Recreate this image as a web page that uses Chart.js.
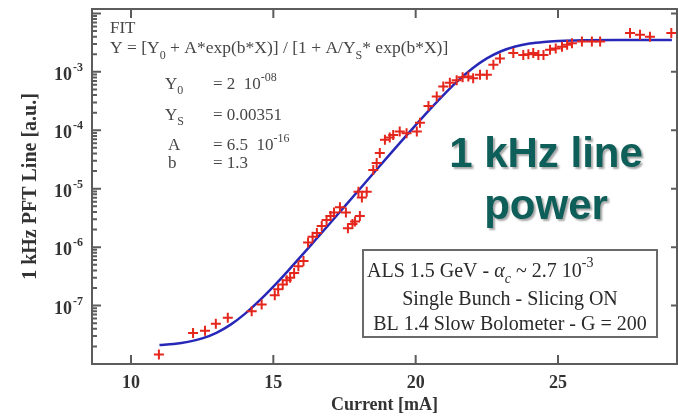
<!DOCTYPE html>
<html><head><meta charset="utf-8">
<script src="https://cdn.jsdelivr.net/npm/chart.js@4.4.1/dist/chart.umd.min.js"></script>
<style>html,body{margin:0;padding:0;background:#fff;}#wrap{width:678px;height:416px;}</style>
</head><body><div id="wrap"><canvas id="c" width="678" height="416"></canvas></div>
<script>
// ---- data ----
const measX = [10.98,12.18,12.60,12.98,13.40,14.24,14.59,15.05,15.17,15.33,15.47,15.59,15.73,15.88,16.06,16.22,16.38,16.53,16.70,16.87,17.01,17.13,17.34,17.55,17.62,17.78,17.87,18.04,17.99,18.11,18.28,18.51,18.63,18.74,18.92,19.09,19.21,19.44,19.68,20.04,20.15,20.45,20.74,20.97,21.20,21.44,21.65,21.85,22.02,22.26,22.50,22.73,22.96,23.43,23.78,23.96,24.13,24.31,24.49,24.72,24.92,25.14,25.32,25.49,25.84,26.19,26.48,27.53,27.88,28.23,28.98];
const measY = [1.45e-8,3.4e-8,3.7e-8,4.9e-8,6.2e-8,8.0e-8,1.04e-7,1.5e-7,1.9e-7,2.3e-7,2.7e-7,3.0e-7,3.6e-7,4.7e-7,5.8e-7,1.2e-6,1.5e-6,1.75e-6,2.3e-6,2.9e-6,3.4e-6,3.9e-6,4.8e-6,3.9e-6,2.1e-6,2.5e-6,2.75e-6,3.4e-6,8.9e-6,7.1e-6,8.9e-6,2.1e-5,2.75e-5,4.1e-5,6.9e-5,7.5e-5,8.3e-5,9.5e-5,8.9e-5,9.5e-5,1.35e-4,2.6e-4,3.8e-4,5.6e-4,6.5e-4,7.2e-4,8.1e-4,8.3e-4,7.8e-4,8.9e-4,8.9e-4,1.32e-3,1.7e-3,2.1e-3,1.95e-3,2.0e-3,2.1e-3,1.95e-3,1.95e-3,2.4e-3,2.5e-3,2.7e-3,2.9e-3,3.1e-3,3.3e-3,3.3e-3,3.3e-3,4.6e-3,4.3e-3,4.0e-3,4.6e-3];
const fitX = [11,11.5,12,12.5,13,13.5,14,14.5,15,15.5,16,16.5,17,17.5,18,18.5,19,19.5,20,20.5,21,21.5,22,22.5,23,23.5,24,24.5,25,25.5,26,27,28,29];
const fitY = [2.11e-8,2.20e-8,2.39e-8,2.74e-8,3.42e-8,4.72e-8,7.2e-8,1.20e-7,2.11e-7,3.86e-7,7.21e-7,1.365e-6,2.59e-6,4.94e-6,9.43e-6,1.80e-5,3.44e-5,6.51e-5,1.228e-4,2.28e-4,4.12e-4,7.13e-4,1.151e-3,1.697e-3,2.25e-3,2.72e-3,3.05e-3,3.25e-3,3.37e-3,3.44e-3,3.47e-3,3.50e-3,3.51e-3,3.51e-3];
const xTickValues = [10,15,20,25];
const yTickExponents = [-3,-4,-5,-6,-7];
const xTitle = 'Current [mA]';
const yTitle = '1 kHz PFT Line [a.u.]';

const SERIF = '"Liberation Serif", "Times New Roman", serif';

function rich(ctx, x, y, parts, size, weight, color, align) {
  const fontFor = p => {
    const s = (p.sub || p.sup) ? Math.round(size * 0.68) : size;
    return (p.italic ? 'italic ' : '') + (weight || 'normal') + ' ' + s + 'px ' + SERIF;
  };
  let w = 0;
  for (const p of parts) { ctx.font = fontFor(p); w += ctx.measureText(p.t).width; }
  let cx = align === 'center' ? x - w / 2 : x;
  ctx.fillStyle = color; ctx.textAlign = 'left'; ctx.textBaseline = 'alphabetic';
  for (const p of parts) {
    ctx.font = fontFor(p);
    const dy = p.sub ? size * 0.32 : p.sup ? -size * 0.5 : 0;
    ctx.fillText(p.t, cx, y + dy);
    cx += ctx.measureText(p.t).width;
  }
}

const decor = {
  id: 'decor',
  afterDraw(chart) {
    const {ctx, chartArea: a, scales: {x, y}} = chart;
    ctx.save();
    ctx.strokeStyle = '#5c5c5c'; ctx.lineWidth = 2;
    ctx.strokeRect(a.left, a.top, a.right - a.left, a.bottom - a.top);
    ctx.beginPath();
    xTickValues.forEach(v => {
      const px = x.getPixelForValue(v);
      ctx.moveTo(px, a.bottom); ctx.lineTo(px, a.bottom - 9);
      ctx.moveTo(px, a.top); ctx.lineTo(px, a.top + 9);
    });
    for (let e = -8; e <= -2; e++) {
      for (let k = 1; k <= 9; k++) {
        const v = k * Math.pow(10, e);
        if (v <= y.min || v >= y.max) continue;
        const py = y.getPixelForValue(v);
        ctx.moveTo(a.left, py); ctx.lineTo(a.left + (k === 1 ? 9 : 5), py);
        if (k === 1) { ctx.moveTo(a.right, py); ctx.lineTo(a.right - 6, py); }
      }
    }
    ctx.stroke();
    yTickExponents.forEach(e => {
      const py = y.getPixelForValue(Math.pow(10, e));
      ctx.fillStyle = '#333';
      ctx.font = 'bold 18px ' + SERIF; ctx.textAlign = 'right'; ctx.textBaseline = 'alphabetic';
      ctx.fillText('10', a.left - 20, py + 8);
      ctx.font = 'bold 12px ' + SERIF; ctx.textAlign = 'left';
      ctx.fillText(String(e), a.left - 19, py - 1);
    });
    const g = '#464646';
    rich(ctx, 110, 33, [{t: 'FIT'}], 17, 'normal', g);
    rich(ctx, 110, 53, [{t: 'Y = [Y'}, {t: '0', sub: 1}, {t: ' + A*exp(b*X)] / [1 + A/Y'}, {t: 'S', sub: 1}, {t: '* exp(b*X)]'}], 17.5, 'normal', g);
    rich(ctx, 165, 89, [{t: 'Y'}, {t: '0', sub: 1}], 17, 'normal', g);
    rich(ctx, 213, 89, [{t: '= 2  10'}, {t: '-08', sup: 1}], 17, 'normal', g);
    rich(ctx, 165, 120, [{t: 'Y'}, {t: 'S', sub: 1}], 17, 'normal', g);
    rich(ctx, 213, 120, [{t: '= 0.00351'}], 17, 'normal', g);
    rich(ctx, 168, 150, [{t: 'A'}], 17, 'normal', g);
    rich(ctx, 213, 150, [{t: '= 6.5  10'}, {t: '-16', sup: 1}], 17, 'normal', g);
    rich(ctx, 168, 168, [{t: 'b'}], 17, 'normal', g);
    rich(ctx, 213, 168, [{t: '= 1.3'}], 17, 'normal', g);
    ctx.fillStyle = '#fff'; ctx.fillRect(363, 250, 294, 87);
    ctx.strokeStyle = '#6a6a6a'; ctx.lineWidth = 2; ctx.strokeRect(363, 250, 294, 87);
    const t = '#2a2a2a';
    rich(ctx, 367, 277, [{t: 'ALS 1.5 GeV - '}, {t: 'α', italic: 1}, {t: 'c', sub: 1, italic: 1}, {t: ' ~ 2.7 10'}, {t: '-3', sup: 1}], 20, 'normal', t);
    rich(ctx, 510, 305, [{t: 'Single Bunch - Slicing ON'}], 20, 'normal', t, 'center');
    rich(ctx, 510, 330, [{t: 'BL 1.4 Slow Bolometer - G = 200'}], 20, 'normal', t, 'center');
    ctx.font = 'bold 42px "Liberation Sans", Arial, sans-serif';
    ctx.textAlign = 'center'; ctx.textBaseline = 'alphabetic';
    ctx.shadowColor = 'rgba(0,0,0,0.35)'; ctx.shadowOffsetX = 2; ctx.shadowOffsetY = 2; ctx.shadowBlur = 2;
    ctx.fillStyle = '#0e5e59';
    ctx.fillText('1 kHz line', 546, 167);
    ctx.fillText('power', 546, 219);
    ctx.restore();
  }
};

new Chart(document.getElementById('c'), {
  type: 'scatter',
  data: {
    datasets: [
      {
        label: 'data',
        data: measX.map((v, i) => ({x: v, y: measY[i]})),
        pointStyle: 'cross', pointRadius: 5, pointBorderWidth: 2,
        borderColor: '#e5261c', backgroundColor: '#e5261c', showLine: false
      },
      {
        label: 'fit',
        data: fitX.map((v, i) => ({x: v, y: fitY[i]})),
        showLine: true, pointRadius: 0, borderColor: '#2828b8', borderWidth: 2.5,
        cubicInterpolationMode: 'monotone', fill: false
      }
    ]
  },
  options: {
    responsive: false, animation: false, devicePixelRatio: 1,
    layout: {autoPadding: false, padding: {top: 9, right: 1, left: 0, bottom: 0}},
    plugins: {legend: {display: false}, tooltip: {enabled: false}},
    scales: {
      x: {
        type: 'linear', position: 'bottom', min: 8.63, max: 29.18,
        afterFit: s => { s.height = 52; s.paddingLeft = 0; s.paddingRight = 0; },
        afterBuildTicks: s => { s.ticks = xTickValues.map(v => ({value: v})); },
        grid: {display: false, drawTicks: false}, border: {display: false},
        ticks: {font: {family: SERIF, size: 18, weight: 'bold'}, color: '#333', padding: 9, maxRotation: 0, autoSkip: false,
                callback: v => String(v)},
        title: {display: true, text: xTitle, color: '#333', font: {family: SERIF, size: 18, weight: 'bold'}, padding: {top: 0, bottom: 0}}
      },
      y: {
        type: 'logarithmic', position: 'left', min: 1e-8, max: 0.0119,
        afterFit: s => { s.width = 92; s.paddingTop = 0; s.paddingBottom = 0; },
        grid: {display: false, drawTicks: false}, border: {display: false},
        ticks: {display: false},
        title: {display: true, text: yTitle, color: '#333', font: {family: SERIF, size: 20, weight: 'bold'}, padding: {top: 19, bottom: 0}}
      }
    }
  },
  plugins: [decor]
});
</script></body></html>
